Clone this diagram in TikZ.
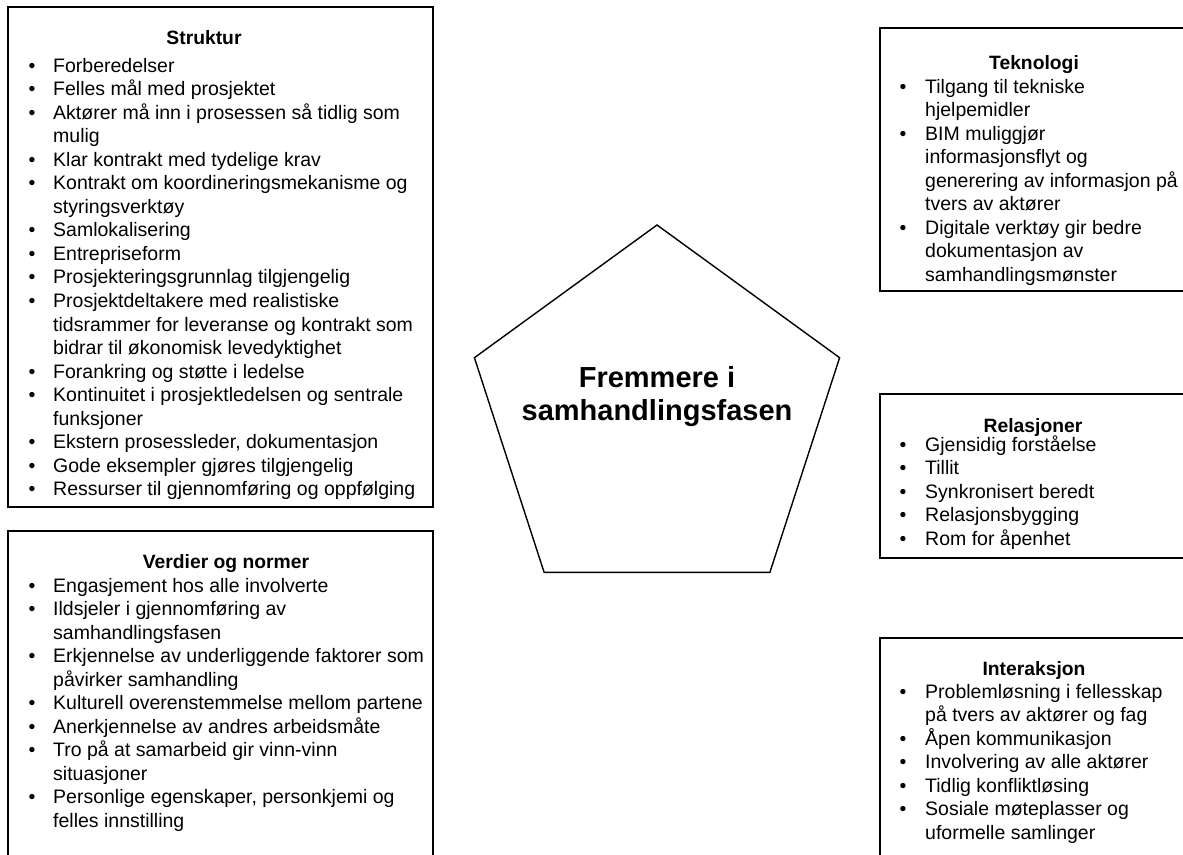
\documentclass[tikz,border=0pt]{standalone}
\usepackage{fontspec}
\setmainfont{Liberation Sans}
\tikzset{
  box/.style={draw=black, line width=1.8pt, inner sep=0pt, outer sep=0pt, anchor=north west},
  body/.style={font=\fontsize{19.5}{23}\selectfont, anchor=base west, inner sep=0pt},
  bul/.style={font=\fontsize{19.5}{23}\selectfont, anchor=base, inner sep=0pt},
  ttl/.style={font=\bfseries\fontsize{19.3}{23}\selectfont, anchor=base, inner sep=0pt},
  pent/.style={draw=black, line width=1.4pt, line join=miter},
  ctext/.style={font=\bfseries\fontsize{29}{33}\selectfont, align=center, inner sep=0pt}
}
\newcommand\itemlist[5]{%
  \foreach \b/\t [count=\i] in {#5} {%
    \ifnum\b=1 \node[bul] (#1b\i) at (#2, {#4+(\i-1)*23.55}) {•};\fi
    \node[body] (#1\i) at (#3, {#4+(\i-1)*23.55}) {\t};
  }%
}
\begin{document}
\begin{tikzpicture}[x=1pt,y=-1pt]
\useasboundingbox (0,0) rectangle (1183,854);
\clip (0,0) rectangle (1183,854);
\fill[white] (0,0) rectangle (1183,854);

% boxes
\node[box, minimum width=425pt, minimum height=500pt] (struktur) at (8,7) {};
\node[box, minimum width=425pt, minimum height=340pt] (verdier) at (8,531) {};
\node[box, minimum width=320pt, minimum height=263pt] (teknologi) at (880,28) {};
\node[box, minimum width=320pt, minimum height=164pt] (relasjoner) at (880,394) {};
\node[box, minimum width=320pt, minimum height=240pt] (interaksjon) at (880,638) {};

% titles
\node[ttl] (tS) at (204,44) {Struktur};
\node[ttl] (tV) at (226,568) {Verdier og normer};
\node[ttl] (tT) at (1034,69) {Teknologi};
\node[ttl] (tR) at (1033,432) {Relasjoner};
\node[ttl] (tI) at (1034,675) {Interaksjon};

% lists
\itemlist{s}{32}{53}{72}{1/Forberedelser, 1/Felles mål med prosjektet,
  1/Aktører må inn i prosessen så tidlig som, 0/mulig,
  1/Klar kontrakt med tydelige krav,
  1/Kontrakt om koordineringsmekanisme og, 0/styringsverktøy,
  1/Samlokalisering, 1/Entrepriseform,
  1/Prosjekteringsgrunnlag tilgjengelig,
  1/Prosjektdeltakere med realistiske,
  0/tidsrammer for leveranse og kontrakt som,
  0/bidrar til økonomisk levedyktighet,
  1/Forankring og støtte i ledelse,
  1/Kontinuitet i prosjektledelsen og sentrale, 0/funksjoner,
  1/{Ekstern prosessleder, dokumentasjon},
  1/Gode eksempler gjøres tilgjengelig,
  1/Ressurser til gjennomføring og oppfølging}

\itemlist{v}{32}{53}{592}{1/Engasjement hos alle involverte,
  1/Ildsjeler i gjennomføring av, 0/samhandlingsfasen,
  1/Erkjennelse av underliggende faktorer som, 0/påvirker samhandling,
  1/Kulturell overenstemmelse mellom partene,
  1/Anerkjennelse av andres arbeidsmåte,
  1/Tro på at samarbeid gir vinn-vinn, 0/situasjoner,
  1/{Personlige egenskaper, personkjemi og}, 0/felles innstilling}

\itemlist{t}{903}{925}{93}{1/Tilgang til tekniske, 0/hjelpemidler,
  1/BIM muliggjør, 0/informasjonsflyt og,
  0/generering av informasjon på, 0/tvers av aktører,
  1/Digitale verktøy gir bedre, 0/dokumentasjon av,
  0/samhandlingsmønster}

\itemlist{r}{903}{925}{451}{1/Gjensidig forståelse, 1/Tillit,
  1/Synkronisert beredt, 1/Relasjonsbygging, 1/Rom for åpenhet}

\itemlist{i}{903}{925}{698}{1/Problemløsning i fellesskap,
  0/på tvers av aktører og fag, 1/Åpen kommunikasjon,
  1/Involvering av alle aktører, 1/Tidlig konfliktløsing,
  1/Sosiale møteplasser og, 0/uformelle samlinger}

% pentagon
\coordinate (p1) at (657,225);
\coordinate (p2) at (839.6,357.7);
\coordinate (p3) at (769.9,572.3);
\coordinate (p4) at (544.1,572.3);
\coordinate (p5) at (474.4,357.7);
\draw[pent] (p1) -- (p2) -- (p3) -- (p4) -- (p5) -- cycle;
\node[ctext] (center) at (657,397) {Fremmere i\\samhandlingsfasen};
\end{tikzpicture}
\end{document}
